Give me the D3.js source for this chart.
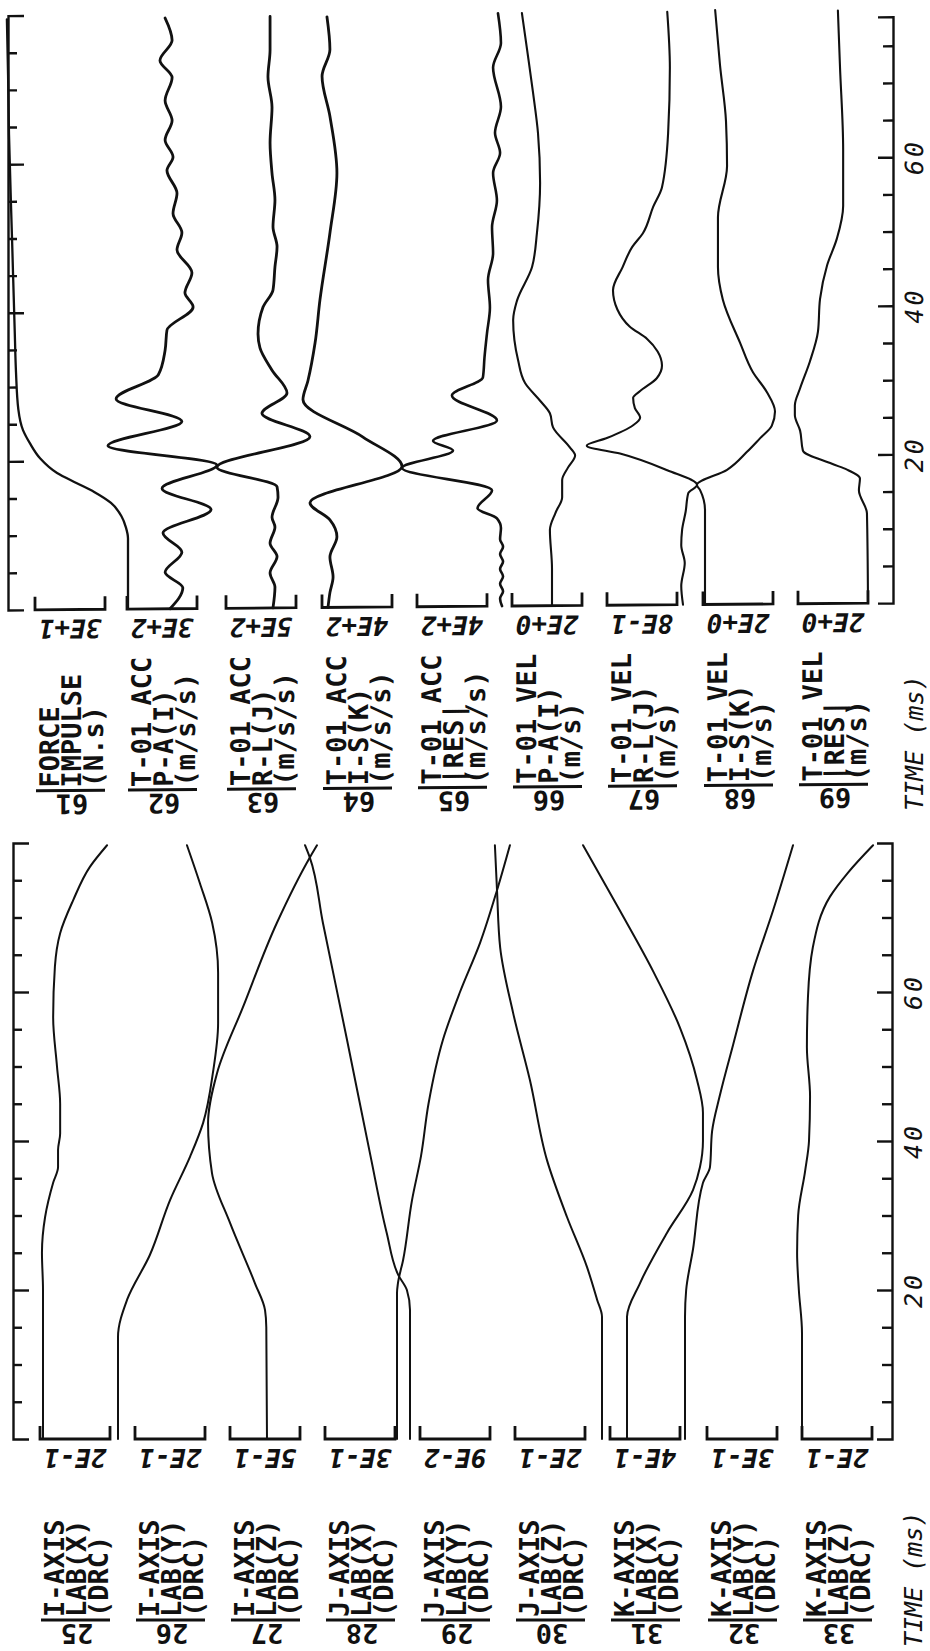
<!DOCTYPE html>
<html><head><meta charset="utf-8">
<script src="https://cdn.jsdelivr.net/npm/d3@7"></script>
<style>body{margin:0;background:#fff}svg{display:block}</style>
</head><body>
<svg id="c" width="930" height="1651"></svg>
<script>
// ---------------- DATA ----------------
const topChannels = [61,62,63,64,65,66,67,68,69];
const topScaleLabels = ["3E+1","3E+2","5E+2","4E+2","4E+2","2E+0","8E-1","2E+0","2E+0"];
const topLabelLines = [
  ["FORCE","IMPULSE","(N.s)"],
  ["T-01 ACC","P-A(I)","(m/s/s)"],
  ["T-01 ACC","R-L(J)","(m/s/s)"],
  ["T-01 ACC","I-S(K)","(m/s/s)"],
  ["T-01 ACC","|RES|","(m/s/s)"],
  ["T-01 VEL","P-A(I)","(m/s)"],
  ["T-01 VEL","R-L(J)","(m/s)"],
  ["T-01 VEL","I-S(K)","(m/s)"],
  ["T-01 VEL","|RES|","(m/s)"]
];
const botChannels = [25,26,27,28,29,30,31,32,33];
const botScaleLabels = ["2E-1","2E-1","5E-1","3E-1","9E-2","2E-1","4E-1","3E-1","2E-1"];
const botLabelLines = [
  ["I-AXIS","LAB(X)","(DRC)"],
  ["I-AXIS","LAB(Y)","(DRC)"],
  ["I-AXIS","LAB(Z)","(DRC)"],
  ["J-AXIS","LAB(X)","(DRC)"],
  ["J-AXIS","LAB(Y)","(DRC)"],
  ["J-AXIS","LAB(Z)","(DRC)"],
  ["K-AXIS","LAB(X)","(DRC)"],
  ["K-AXIS","LAB(Y)","(DRC)"],
  ["K-AXIS","LAB(Z)","(DRC)"]
];
const timeTickLabels = [20,40,60];
const timeTitle = "TIME (ms)";

// series: [time (ms), value in channel units]
const ch61 = [[0,0],[5,0],[9.5,0],[11,0.9],[12.5,2.8],[14.3,7.3],[15.8,14.5],[17,21.9],[18.4,30.4],[20.4,37.7],[22.4,42.0],[24.2,45.0],[27,47.0],[32,48.0],[37,48.5],[50,49.7],[64,51.0],[72,51.4],[79.5,51.9]];
const ch62 = [[0,0],[2.8,-55],[4.9,21],[7.6,-51],[10.2,30],[13.3,-176],[16.2,34],[19.3,-201],[22.0,266],[25.2,-51],[28.3,231],[31.5,50],[34.8,21],[37.5,13],[40.6,-99],[42.5,-64],[45.2,-94],[48.3,-30],[50.6,-51],[53.2,-13],[55.9,-30],[59.0,13],[60.8,-13],[63.1,21],[65.7,-9],[68.4,21],[71.5,-9],[73.8,43],[76.5,-9],[79.5,21]];
const ch63 = [[0,0],[2.8,-14],[4.7,21],[6.9,-29],[8.7,21],[10.9,-14],[12.2,7],[14.9,-36],[16.3,-29],[19,400],[23.0,-264],[26.2,79],[28.9,-100],[32.0,7],[35.0,93],[36.9,107],[40.5,71],[42.8,0],[45.9,-14],[48.6,-29],[51.3,0],[54.9,-14],[58.5,7],[62.6,21],[67.4,7],[71.5,36],[75.1,21],[79.6,21]];
const ch64 = [[0,0],[2,-11],[4.1,-29],[6.8,-11],[9.5,-51],[11.8,-11],[14.1,103],[18.9,-423],[22.9,-200],[28,143],[30.5,115],[35.6,74],[41.4,46],[50.4,-11],[58.5,-51],[66.1,-11],[71.5,34],[75.1,-11],[79.5,6]];
const ch65 = [[0,0],[1,11],[2,-6],[3,11],[4,-6],[5,11],[6,-6],[7,11],[8,-6],[9,11],[10.5,6],[11.8,29],[13.2,140],[15.6,57],[18.7,571],[21.0,280],[22.3,394],[25.0,29],[28.4,286],[30.8,109],[33.5,100],[36.7,86],[40.2,69],[43.9,80],[47.5,51],[51.0,57],[54.6,29],[58.3,51],[61.0,11],[63.7,40],[67.2,6],[72.5,51],[75.8,6],[79.8,23]];
const ch66 = [[0,0],[5,0],[10.2,0.06],[12.5,-0.1],[14.6,-0.29],[16.9,-0.29],[18.6,-0.46],[20.2,-0.66],[21.3,-0.51],[24.0,-0.03],[25.9,0.06],[27.6,0.34],[30.0,0.77],[33.1,0.97],[38.5,1.11],[41.1,1.0],[45.6,0.57],[50.2,0.43],[56.9,0.34],[63.6,0.4],[69.0,0.54],[74.8,0.71],[79.8,0.86]];
const ch67 = [[0,0],[2.5,0.02],[5.6,-0.02],[8,0.02],[10.1,0.01],[12.5,-0.03],[15.0,-0.06],[16.1,-0.16],[18.1,0.18],[20.4,0.72],[21.5,1.10],[22.5,0.87],[24.2,0.57],[25.2,0.49],[26.5,0.55],[27.9,0.57],[28.8,0.49],[30.5,0.30],[32.2,0.24],[34.1,0.29],[35.8,0.41],[37.5,0.61],[39.8,0.75],[42.4,0.80],[45.5,0.69],[48.2,0.58],[50.0,0.46],[53.6,0.34],[56.2,0.24],[63.5,0.17],[72.3,0.15],[79.8,0.18]];
const ch68 = [[0,0],[12.7,0],[15.4,0.14],[16.1,0.23],[18.1,-0.63],[20.5,-1.2],[22.3,-1.57],[24.0,-1.91],[25.9,-2.0],[28.5,-1.77],[31.2,-1.37],[35.2,-1.0],[41,-0.51],[45.4,-0.37],[52.1,-0.37],[59,-0.63],[65,-0.6],[72.5,-0.43],[80,-0.29]];
const ch69 = [[0,0],[12.1,0.03],[15.2,0.26],[16.8,0.23],[18.0,0.6],[18.8,1.03],[20.6,1.86],[23.3,1.94],[25.4,2.09],[26.7,2.09],[29.0,1.94],[32.6,1.66],[36.6,1.43],[41.0,1.37],[45.5,1.17],[49.1,0.89],[53.5,0.71],[61.1,0.71],[72.2,0.8],[79.8,0.86]];

const ch25 = [[0,0],[20,0],[25,0.003],[29.8,-0.006],[34.4,-0.029],[36.5,-0.043],[38.8,-0.043],[41,-0.049],[45,-0.049],[50,-0.040],[56.6,-0.029],[63.4,-0.034],[67.9,-0.049],[72.3,-0.086],[76.8,-0.134],[79.7,-0.183]];
const ch26 = [[0,0],[13.7,0],[18.7,-0.026],[24.7,-0.091],[32.1,-0.149],[37.9,-0.206],[42.4,-0.243],[49.1,-0.271],[55.8,-0.286],[62.6,-0.286],[69.3,-0.269],[74.6,-0.234],[79.7,-0.197]];
const ch27 = [[0,0],[15,0.005],[17.3,0.014],[20.9,0.086],[29.0,0.264],[35.7,0.393],[42.4,0.421],[49.1,0.357],[58.0,0.171],[69.3,-0.071],[78.1,-0.307],[79.7,-0.357]];
const ch28 = [[0,0],[19.6,0],[20.9,-0.004],[24,-0.026],[32,-0.064],[38,-0.103],[45,-0.135],[53.6,-0.197],[60,-0.27],[66.6,-0.356],[73.7,-0.429],[79.7,-0.484]];
const ch29 = [[0,0],[17.3,0],[20,0.004],[22,0.015],[27.7,0.03],[38.1,0.051],[53.6,0.081],[69.3,0.112],[78.1,0.129],[79.7,0.135]];
const ch30 = [[0,0],[16.4,0],[18.7,0.014],[23.1,0.043],[29.8,0.1],[37.4,0.157],[48.2,0.206],[57.2,0.254],[66.0,0.291],[73.7,0.3],[79.7,0.306]];
const ch31 = [[0,0],[16.4,0],[20.9,-0.074],[27.7,-0.229],[33.4,-0.377],[36.5,-0.417],[40,-0.434],[43.8,-0.434],[48.2,-0.4],[55.2,-0.303],[62.8,-0.149],[70.9,0.04],[79.7,0.251]];
const ch32 = [[0,0],[16.4,0],[20,-0.005],[25.4,-0.034],[34.4,-0.077],[36.5,-0.107],[41.3,-0.116],[46.2,-0.15],[52.9,-0.206],[62.8,-0.291],[70.9,-0.377],[79.7,-0.463]];
const ch33 = [[0,0],[14.2,0],[20,0.009],[25,0.014],[30,0.011],[36,-0.009],[40,-0.02],[46,-0.023],[52.6,-0.014],[59.3,-0.017],[66,-0.031],[72.8,-0.08],[76,-0.131],[79.7,-0.203]];

// ---------------- LAYOUT ----------------
const FONT = "'DejaVu Sans Mono','Liberation Mono',monospace";
const panels = [
  { channels: topChannels, scales: topScaleLabels, lines: topLabelLines,
    series: [ch61,ch62,ch63,ch64,ch65,ch66,ch67,ch68,ch69],
    t0: 603, pxPerMs: 7.43, leftAxisX: 8, rightAxisX: 893, leftEnd: 80, rightEnd: 78.9,
    colLeft: [35,127,226,322,417,512,607,703,798],
    zeroX: [128,170,273,328,502,552,683,705,868],
    widths: [2.3,2.8,2.8,2.8,2.6,2.1,2.1,2.1,2.1], skewDeg: -0.454 },
  { channels: botChannels, scales: botScaleLabels, lines: botLabelLines,
    series: [ch25,ch26,ch27,ch28,ch29,ch30,ch31,ch32,ch33],
    t0: 1439, pxPerMs: 7.45, leftAxisX: 13, rightAxisX: 892, leftEnd: 80, rightEnd: 80,
    colLeft: [40,135,230,325,420,515,610,707,802],
    zeroX: [43,118,267,397,410,602,627,685,802],
    widths: [2,2,2,2,2,2,2,2,2], skewDeg: 0 }
];
const BW = 70;

const svg = d3.select("#c");
svg.append("rect").attr("width",930).attr("height",1651).attr("fill","#fff");

function drawPanel(p) {
  const g = svg.append("g");
  if (p.skewDeg) g.attr("transform", `translate(${p.rightAxisX},0) skewY(${p.skewDeg}) translate(${-p.rightAxisX},0)`);
  const y = d3.scaleLinear().domain([0,80]).range([p.t0, p.t0 - 80*p.pxPerMs]);

  const yL = d3.scaleLinear().domain([0,p.leftEnd]).range([y(0), y(p.leftEnd)]);
  const yR = d3.scaleLinear().domain([0,p.rightEnd]).range([y(0), y(p.rightEnd)]);
  const minor = end => d3.range(5, end, 5).filter(t => t % 20 !== 0);

  function styleAxis(sel){ sel.selectAll("path,line").attr("stroke","#111").attr("stroke-width",2.4); }
  // left axis
  g.append("g").attr("transform",`translate(${p.leftAxisX},0)`)
    .call(d3.axisLeft(yL).tickValues(minor(p.leftEnd)).tickSizeInner(-9).tickSizeOuter(-16).tickFormat(""))
    .call(styleAxis);
  g.append("g").attr("transform",`translate(${p.leftAxisX},0)`)
    .call(d3.axisLeft(yL).tickValues(timeTickLabels).tickSizeInner(-16).tickSizeOuter(0).tickFormat(""))
    .call(s => s.select(".domain").remove()).call(styleAxis);
  // right axis
  g.append("g").attr("transform",`translate(${p.rightAxisX},0)`)
    .call(d3.axisRight(yR).tickValues(minor(p.rightEnd)).tickSizeInner(-10).tickSizeOuter(-15).tickFormat(""))
    .call(styleAxis);
  g.append("g").attr("transform",`translate(${p.rightAxisX},0)`)
    .call(d3.axisRight(yR).tickValues(timeTickLabels).tickSizeInner(-15).tickSizeOuter(0).tickFormat(""))
    .call(s => s.select(".domain").remove()).call(styleAxis);

  // tick labels
  timeTickLabels.forEach(t => {
    g.append("text").attr("transform",`translate(${p.rightAxisX+30},${yR(t)}) rotate(-90)`)
      .attr("text-anchor","middle").attr("font-family",FONT).attr("font-style","italic")
      .attr("font-size",25).attr("letter-spacing",3).attr("fill","#111").text(t);
  });
  g.append("text").attr("transform",`translate(${p.rightAxisX+30},${p.t0+208}) rotate(-90)`)
    .attr("font-family",FONT).attr("font-style","italic").attr("font-size",25).attr("fill","#111")
    .text(timeTitle);

  p.channels.forEach((ch, i) => {
    const cl = p.colLeft[i];
    const S = +p.scales[i];
    // scale bracket
    g.append("path").attr("d",`M${cl},${p.t0-13}V${p.t0}H${cl+BW}V${p.t0-13}`)
      .attr("fill","none").attr("stroke","#111").attr("stroke-width",2.8);
    g.append("text").attr("transform",`translate(${cl+35},${p.t0+10}) rotate(180)`)
      .attr("text-anchor","middle").attr("font-family",FONT).attr("font-style","italic")
      .attr("font-weight","bold").attr("font-size",26).attr("fill","#111").text(p.scales[i]);
    // channel label
    p.lines[i].forEach((ln, j) => {
      g.append("text").attr("transform",`translate(${cl+24+22*j},${p.t0+178}) rotate(-90)`)
        .attr("font-family",FONT).attr("font-weight","bold").attr("font-size",27).attr("fill","#111").text(ln);
    });
    g.append("line").attr("x1",cl+1).attr("x2",cl+70).attr("y1",p.t0+181).attr("y2",p.t0+181)
      .attr("stroke","#111").attr("stroke-width",3);
    g.append("text").attr("transform",`translate(${cl+37},${p.t0+185}) rotate(180)`)
      .attr("text-anchor","middle").attr("font-family",FONT).attr("font-weight","bold")
      .attr("font-size",27).attr("fill","#111").text(ch);
    // trace
    const xs = d3.scaleLinear().domain([0,S]).range([p.zeroX[i], p.zeroX[i]-BW]);
    const line = d3.line().x(d => xs(d[1])).y(d => y(d[0])).curve(d3.curveMonotoneY);
    g.append("path").datum(p.series[i]).attr("d",line).attr("fill","none")
      .attr("stroke","#111").attr("stroke-width",p.widths[i]).attr("stroke-linejoin","round").attr("stroke-linecap","round");
  });
}
panels.forEach(drawPanel);
</script>
</body></html>
